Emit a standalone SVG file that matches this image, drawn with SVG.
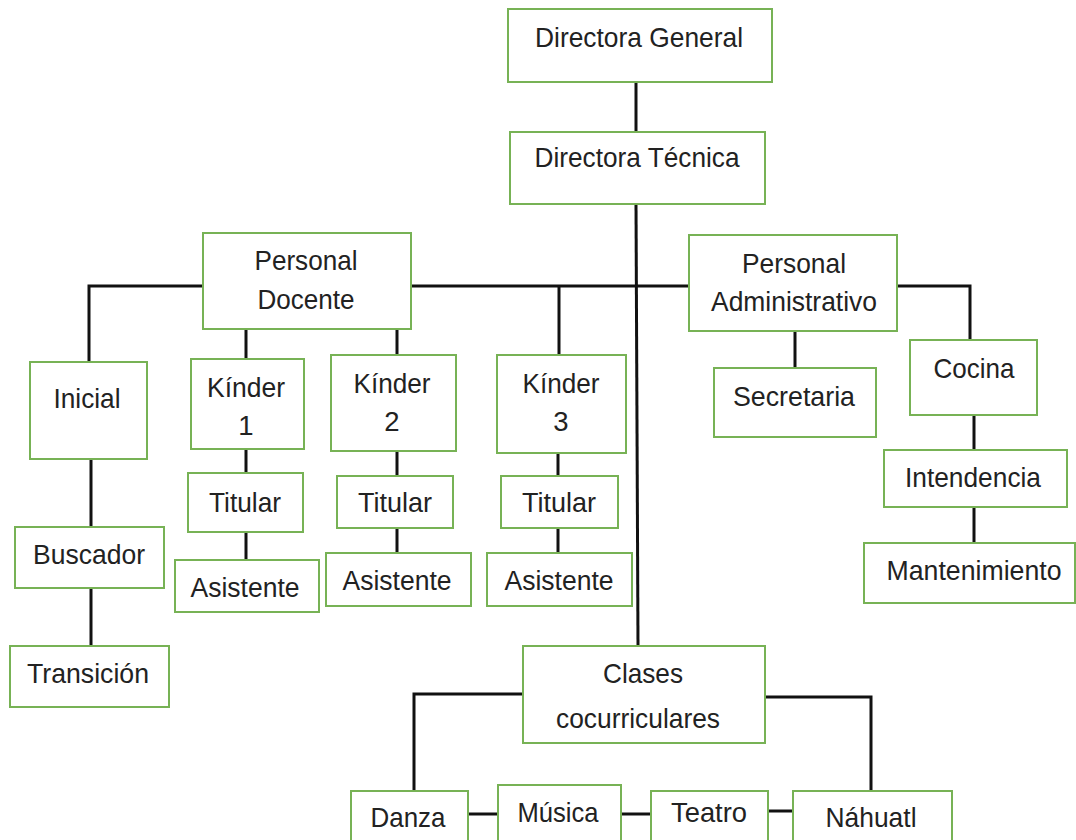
<svg xmlns="http://www.w3.org/2000/svg" width="1076" height="840" viewBox="0 0 1076 840">
<style>
.box{fill:#fff;stroke:#77b255;stroke-width:2}
.t{font-family:"Liberation Sans",Arial,sans-serif;font-size:27.5px;fill:#222;text-anchor:middle}
.c{stroke:#111;stroke-width:3;fill:none}
</style>
<rect width="1076" height="840" fill="#fff"/>
<g id="connectors">
<line class="c" x1="636" y1="82" x2="636" y2="132"/>
<line class="c" x1="636" y1="204" x2="638" y2="646"/>
<polyline class="c" points="89,362 89,286 970,286 970,340"/>
<line class="c" x1="246" y1="329" x2="246" y2="359"/>
<line class="c" x1="397" y1="329" x2="397" y2="355"/>
<line class="c" x1="559" y1="286" x2="559" y2="355"/>
<line class="c" x1="795" y1="331" x2="795" y2="368"/>
<line class="c" x1="974" y1="415" x2="974" y2="450"/>
<line class="c" x1="974" y1="507" x2="974" y2="543"/>
<line class="c" x1="91" y1="459" x2="91" y2="527"/>
<line class="c" x1="91" y1="588" x2="91" y2="646"/>
<line class="c" x1="246" y1="449" x2="246" y2="473"/>
<line class="c" x1="246" y1="532" x2="246" y2="560"/>
<line class="c" x1="397" y1="451" x2="397" y2="476"/>
<line class="c" x1="397" y1="528" x2="397" y2="553"/>
<line class="c" x1="558" y1="453" x2="558" y2="476"/>
<line class="c" x1="558" y1="528" x2="558" y2="553"/>
<polyline class="c" points="523,694 414,694 414,791"/>
<polyline class="c" points="765,697 871,697 871,791"/>
<line class="c" x1="468" y1="814" x2="498" y2="814"/>
<line class="c" x1="621" y1="814" x2="651" y2="814"/>
<line class="c" x1="768" y1="811" x2="793" y2="811"/>
</g>
<g id="directora-general"><rect class="box" x="508" y="9" width="264" height="73"/><text class="t" x="639" y="47" textLength="208" lengthAdjust="spacingAndGlyphs">Directora General</text></g>
<g id="directora-tecnica"><rect class="box" x="510" y="132" width="255" height="72"/><text class="t" x="637" y="167" textLength="205" lengthAdjust="spacingAndGlyphs">Directora Técnica</text></g>
<g id="personal-docente"><rect class="box" x="203" y="233" width="208" height="96"/><text class="t" x="306" y="270" textLength="103" lengthAdjust="spacingAndGlyphs">Personal</text><text class="t" x="306" y="309" textLength="97" lengthAdjust="spacingAndGlyphs">Docente</text></g>
<g id="personal-administrativo"><rect class="box" x="689" y="235" width="208" height="96"/><text class="t" x="794" y="273" textLength="104" lengthAdjust="spacingAndGlyphs">Personal</text><text class="t" x="794" y="311" textLength="166" lengthAdjust="spacingAndGlyphs">Administrativo</text></g>
<g id="inicial"><rect class="box" x="30" y="362" width="117" height="97"/><text class="t" x="87" y="408" textLength="67" lengthAdjust="spacingAndGlyphs">Inicial</text></g>
<g id="kinder1"><rect class="box" x="191" y="359" width="113" height="90"/><text class="t" x="246" y="397" textLength="78" lengthAdjust="spacingAndGlyphs">Kínder</text><text class="t" x="246" y="435">1</text></g>
<g id="kinder2"><rect class="box" x="331" y="355" width="125" height="96"/><text class="t" x="392" y="393" textLength="77" lengthAdjust="spacingAndGlyphs">Kínder</text><text class="t" x="392" y="431">2</text></g>
<g id="kinder3"><rect class="box" x="497" y="355" width="129" height="98"/><text class="t" x="561" y="393" textLength="77" lengthAdjust="spacingAndGlyphs">Kínder</text><text class="t" x="561" y="431">3</text></g>
<g id="secretaria"><rect class="box" x="714" y="368" width="162" height="69"/><text class="t" x="794" y="406" textLength="122" lengthAdjust="spacingAndGlyphs">Secretaria</text></g>
<g id="cocina"><rect class="box" x="910" y="340" width="127" height="75"/><text class="t" x="974" y="378" textLength="81" lengthAdjust="spacingAndGlyphs">Cocina</text></g>
<g id="intendencia"><rect class="box" x="884" y="450" width="183" height="57"/><text class="t" x="973" y="487" textLength="136" lengthAdjust="spacingAndGlyphs">Intendencia</text></g>
<g id="mantenimiento"><rect class="box" x="864" y="543" width="211" height="60"/><text class="t" x="974" y="580" textLength="175" lengthAdjust="spacingAndGlyphs">Mantenimiento</text></g>
<g id="titular1"><rect class="box" x="188" y="473" width="115" height="59"/><text class="t" x="245" y="512" textLength="72" lengthAdjust="spacingAndGlyphs">Titular</text></g>
<g id="asistente1"><rect class="box" x="175" y="560" width="144" height="52"/><text class="t" x="245" y="597" textLength="109" lengthAdjust="spacingAndGlyphs">Asistente</text></g>
<g id="titular2"><rect class="box" x="337" y="476" width="116" height="52"/><text class="t" x="395" y="512" textLength="74" lengthAdjust="spacingAndGlyphs">Titular</text></g>
<g id="asistente2"><rect class="box" x="326" y="553" width="145" height="53"/><text class="t" x="397" y="590" textLength="109" lengthAdjust="spacingAndGlyphs">Asistente</text></g>
<g id="titular3"><rect class="box" x="501" y="476" width="117" height="52"/><text class="t" x="559" y="512" textLength="74" lengthAdjust="spacingAndGlyphs">Titular</text></g>
<g id="asistente3"><rect class="box" x="487" y="553" width="145" height="53"/><text class="t" x="559" y="590" textLength="109" lengthAdjust="spacingAndGlyphs">Asistente</text></g>
<g id="buscador"><rect class="box" x="15" y="527" width="149" height="61"/><text class="t" x="89" y="564" textLength="112" lengthAdjust="spacingAndGlyphs">Buscador</text></g>
<g id="transicion"><rect class="box" x="10" y="646" width="159" height="61"/><text class="t" x="88" y="683" textLength="122" lengthAdjust="spacingAndGlyphs">Transición</text></g>
<g id="clases"><rect class="box" x="523" y="646" width="242" height="97"/><text class="t" x="643" y="683" textLength="80" lengthAdjust="spacingAndGlyphs">Clases</text><text class="t" x="638" y="728" textLength="164" lengthAdjust="spacingAndGlyphs">cocurriculares</text></g>
<g id="danza"><rect class="box" x="351" y="791" width="117" height="60"/><text class="t" x="408" y="827" textLength="75" lengthAdjust="spacingAndGlyphs">Danza</text></g>
<g id="musica"><rect class="box" x="498" y="785" width="123" height="66"/><text class="t" x="558" y="822" textLength="81" lengthAdjust="spacingAndGlyphs">Música</text></g>
<g id="teatro"><rect class="box" x="651" y="791" width="117" height="60"/><text class="t" x="709" y="822" textLength="76" lengthAdjust="spacingAndGlyphs">Teatro</text></g>
<g id="nahuatl"><rect class="box" x="793" y="791" width="159" height="60"/><text class="t" x="871" y="827" textLength="91" lengthAdjust="spacingAndGlyphs">Náhuatl</text></g>
</svg>
